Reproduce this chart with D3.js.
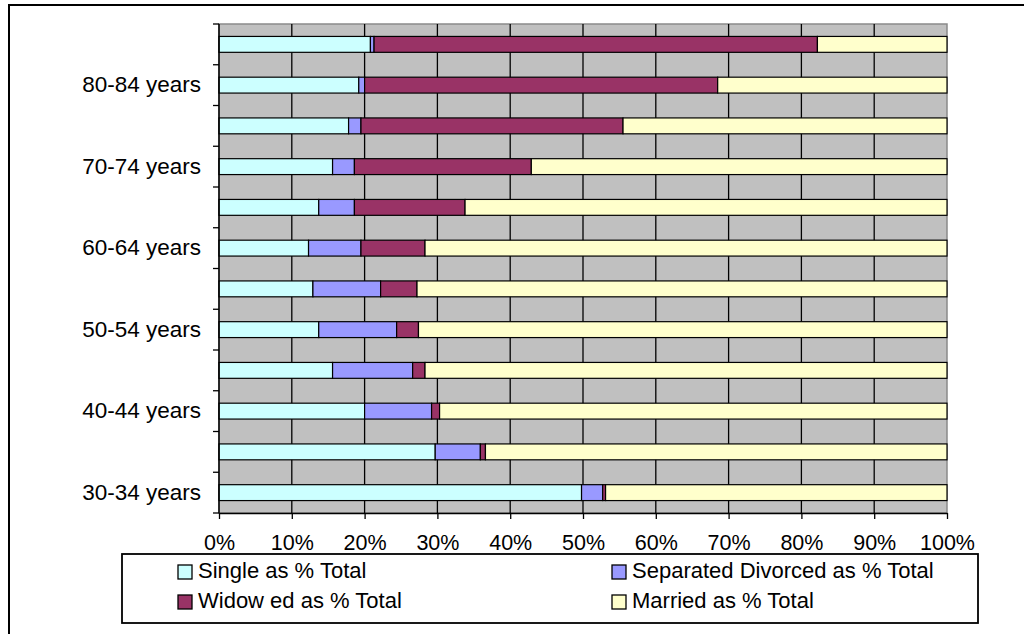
<!DOCTYPE html>
<html>
<head>
<meta charset="utf-8">
<script src="https://cdn.jsdelivr.net/npm/d3@7"></script>
<style>
  html, body { margin: 0; padding: 0; background: #fff; overflow: hidden; }
  svg { display: block; }
  text { font-family: Arial, "Liberation Sans", sans-serif; fill: #000; }
</style>
</head>
<body>
<svg id="chart" width="1024" height="634"></svg>
<script>
// Age groups, top to bottom
const ageGroups = ["85 years and over", "80-84 years", "75-79 years", "70-74 years",
  "65-69 years", "60-64 years", "55-59 years", "50-54 years", "45-49 years",
  "40-44 years", "35-39 years", "30-34 years"];

// Marital status shares (% of total) per age group
const single    = [20.8, 19.2, 17.8, 15.6, 13.7, 12.3, 12.9, 13.7, 15.6, 20.0, 29.7, 49.8];
const separated = [ 0.5,  0.8,  1.7,  3.0,  4.9,  7.2,  9.3, 10.7, 11.0,  9.2,  6.2,  2.9];
const widowed   = [60.9, 48.5, 36.0, 24.3, 15.2,  8.8,  5.0,  3.0,  1.7,  1.1,  0.7,  0.4];
const married   = [17.8, 31.5, 44.5, 57.1, 66.2, 71.7, 72.8, 72.6, 71.7, 69.7, 63.4, 46.9];

const seriesNames = ["Single as % Total", "Separated Divorced as % Total",
  "Widow ed as % Total", "Married as % Total"];
const seriesColors = ["#CCFFFF", "#9999FF", "#993366", "#FFFFCC"];
const xTicks = [0, 10, 20, 30, 40, 50, 60, 70, 80, 90, 100];

const rows = ageGroups.map((g, i) => ({
  group: g, s0: single[i], s1: separated[i], s2: widowed[i], s3: married[i]
}));
const keys = ["s0", "s1", "s2", "s3"];
const stacked = d3.stack().keys(keys)
  .offset(d3.stackOffsetExpand)(rows);

const svg = d3.select("#chart");

// outer chart frame
svg.append("rect")
  .attr("x", 9).attr("y", 5).attr("width", 1040).attr("height", 650)
  .attr("fill", "#fff").attr("stroke", "#000").attr("stroke-width", 2);

const plot = { left: 219, right: 947, top: 24, bottom: 513 };

const x = d3.scaleLinear().domain([0, 1]).range([plot.left, plot.right]);
const y = d3.scaleBand().domain(ageGroups)
  .range([plot.top, plot.bottom])
  .paddingInner(0.61).paddingOuter(0.305);

// plot area background
svg.append("rect")
  .attr("x", plot.left).attr("y", plot.top)
  .attr("width", plot.right - plot.left).attr("height", plot.bottom - plot.top)
  .attr("fill", "#C0C0C0").attr("stroke", "#8a8a8a").attr("stroke-width", 1.5);

// vertical gridlines
svg.append("g").selectAll("line")
  .data(xTicks.slice(1, -1))
  .join("line")
  .attr("x1", d => x(d / 100)).attr("x2", d => x(d / 100))
  .attr("y1", plot.top).attr("y2", plot.bottom)
  .attr("stroke", "#000").attr("stroke-width", 1.3);

// stacked bars
svg.append("g").selectAll("g")
  .data(stacked)
  .join("g")
  .attr("fill", (d, i) => seriesColors[i])
  .selectAll("rect")
  .data(d => d)
  .join("rect")
  .attr("x", d => x(d[0]))
  .attr("width", d => x(d[1]) - x(d[0]))
  .attr("y", d => y(d.data.group))
  .attr("height", y.bandwidth())
  .attr("stroke", "#000").attr("stroke-width", 1.2);

// y axis: labels on every other group
const yAxis = d3.axisLeft(y).tickSize(0).tickPadding(18)
  .tickFormat((d, i) => (i % 2 === 1 ? d : ""));
const gy = svg.append("g").attr("transform", `translate(${plot.left},0)`).call(yAxis);
gy.select(".domain").remove();
gy.selectAll("text").style("font-size", "22.5px").attr("font-family", null);

// y tick marks on group boundaries
const boundaries = d3.range(ageGroups.length + 1).map(i => plot.top + i * y.step());
svg.append("g").selectAll("line")
  .data(boundaries)
  .join("line")
  .attr("x1", plot.left - 6).attr("x2", plot.left)
  .attr("y1", d => d).attr("y2", d => d)
  .attr("stroke", "#000").attr("stroke-width", 1.3);

svg.append("line")
  .attr("x1", plot.left).attr("x2", plot.left)
  .attr("y1", plot.top).attr("y2", plot.bottom)
  .attr("stroke", "#000").attr("stroke-width", 1.5);

// x axis
const xAxis = d3.axisBottom(x)
  .tickValues(xTicks.map(d => d / 100))
  .tickFormat(d => Math.round(d * 100) + "%")
  .tickSizeInner(6).tickSizeOuter(0).tickPadding(16);
const gx = svg.append("g").attr("transform", `translate(0,${plot.bottom})`).call(xAxis);
gx.select(".domain").attr("stroke-width", 1.5);
gx.selectAll(".tick line").attr("stroke-width", 1.3);
gx.selectAll("text").style("font-size", "21.5px").attr("font-family", null);

// legend
const legend = svg.append("g");
legend.append("rect")
  .attr("x", 122).attr("y", 554).attr("width", 856).attr("height", 69)
  .attr("fill", "#fff").attr("stroke", "#000").attr("stroke-width", 1.8);

const legendPos = [[178, 578], [612, 578], [178, 608], [612, 608]];
const items = legend.selectAll("g.item")
  .data(seriesNames)
  .join("g")
  .attr("class", "item")
  .attr("transform", (d, i) => `translate(${legendPos[i][0]},${legendPos[i][1]})`);
items.append("rect")
  .attr("x", 0).attr("y", -13).attr("width", 14).attr("height", 14)
  .attr("fill", (d, i) => seriesColors[i])
  .attr("stroke", "#000").attr("stroke-width", 1.3);
items.append("text")
  .attr("x", 20).attr("y", 0)
  .style("font-size", "22px")
  .text(d => d);
</script>
</body>
</html>
